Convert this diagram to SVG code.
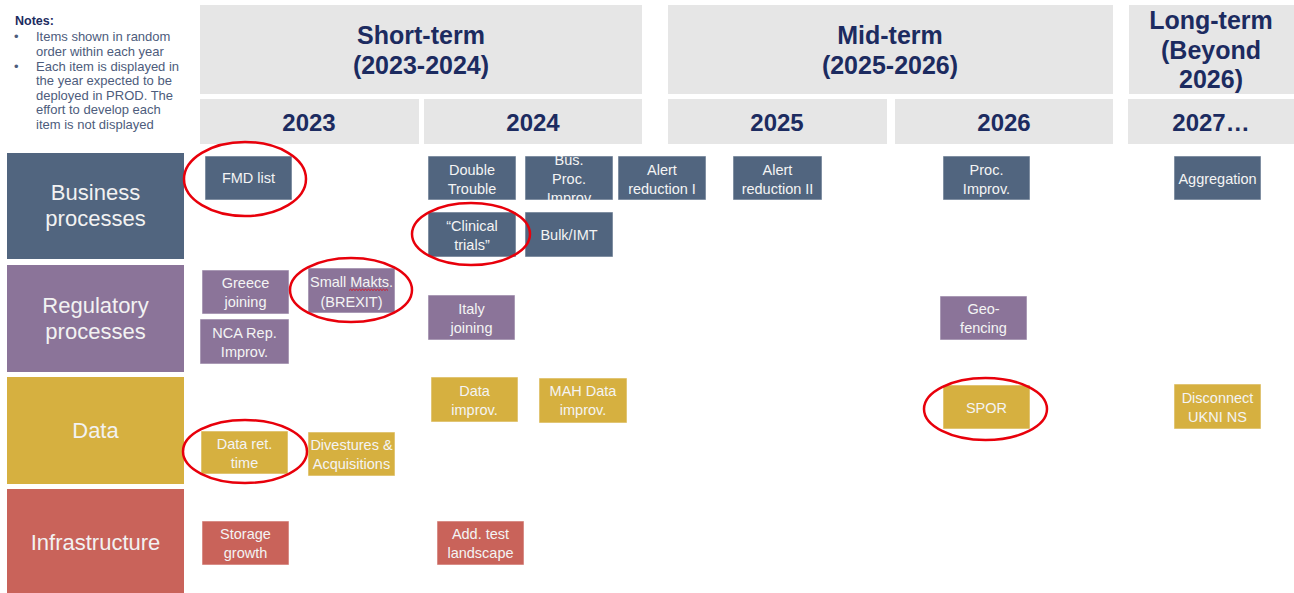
<svg xmlns="http://www.w3.org/2000/svg" width="1294" height="593" viewBox="0 0 1294 593">
<style>
.hdr{fill:#e6e6e6}
.ht{font-family:"Liberation Sans",Arial,sans-serif;font-weight:bold;font-size:25px;fill:#1c2b60;text-anchor:middle}
.yt{font-family:"Liberation Sans",Arial,sans-serif;font-weight:bold;font-size:24px;fill:#1c2b60;text-anchor:middle}
.cat{font-family:"Liberation Sans",Arial,sans-serif;font-size:22px;fill:#f2f2f2;text-anchor:middle}
.it{font-family:"Liberation Sans",Arial,sans-serif;font-size:14.5px;fill:#f4f4f4;text-anchor:middle}
.bp{fill:#51657f}
.rp{fill:#8b7499}
.dt{fill:#d6b040}
.inf{fill:#c9635a}
.box{stroke:#ffffff;stroke-opacity:0.55;stroke-width:1}
.note{font-family:"Liberation Sans",Arial,sans-serif;font-size:13px;fill:#4d5c7c}
.ring{fill:none;stroke:#e8000b;stroke-width:2.5}
</style>
<defs>
<clipPath id="clipBus"><rect x="525" y="156" width="88" height="44"/></clipPath>
</defs>
<rect width="1294" height="593" fill="#ffffff"/>

<g id="notes">
<text x="15" y="25" font-family="Liberation Sans, Arial, sans-serif" font-weight="bold" font-size="12.5" fill="#1c2b60">Notes:</text>
<text class="note" x="14" y="41">•</text>
<text class="note" x="36" y="41">Items shown in random</text>
<text class="note" x="36" y="56">order within each year</text>
<text class="note" x="14" y="71">•</text>
<text class="note" x="36" y="71">Each item is displayed in</text>
<text class="note" x="36" y="85">the year expected to be</text>
<text class="note" x="36" y="100">deployed in PROD. The</text>
<text class="note" x="36" y="114">effort to develop each</text>
<text class="note" x="36" y="129">item is not displayed</text>
</g>

<g id="headers">
<g id="h-short"><rect class="hdr" x="200" y="5" width="442" height="89"/>
<text class="ht" x="421" y="44">Short-term</text><text class="ht" x="421" y="74">(2023-2024)</text></g>
<g id="h-mid"><rect class="hdr" x="668" y="5" width="445" height="89"/>
<text class="ht" x="890" y="44">Mid-term</text><text class="ht" x="890" y="74">(2025-2026)</text></g>
<g id="h-long"><rect class="hdr" x="1129" y="5" width="165" height="89"/>
<text class="ht" x="1211" y="29">Long-term</text><text class="ht" x="1211" y="59">(Beyond</text><text class="ht" x="1211" y="88">2026)</text></g>
<g id="y2023"><rect class="hdr" x="200" y="99" width="219" height="45"/><text class="yt" x="309" y="131">2023</text></g>
<g id="y2024"><rect class="hdr" x="424" y="99" width="218" height="45"/><text class="yt" x="533" y="131">2024</text></g>
<g id="y2025"><rect class="hdr" x="668" y="99" width="219" height="45"/><text class="yt" x="777" y="131">2025</text></g>
<g id="y2026"><rect class="hdr" x="895" y="99" width="218" height="45"/><text class="yt" x="1004" y="131">2026</text></g>
<g id="y2027"><rect class="hdr" x="1128" y="99" width="166" height="45"/><text class="yt" x="1211" y="131">2027…</text></g>
</g>

<g id="categories">
<g id="cat-business"><rect class="bp" x="7" y="153" width="177" height="106"/>
<text class="cat" x="95.5" y="200">Business</text><text class="cat" x="95.5" y="226">processes</text></g>
<g id="cat-regulatory"><rect class="rp" x="7" y="265" width="177" height="107"/>
<text class="cat" x="95.5" y="313">Regulatory</text><text class="cat" x="95.5" y="339">processes</text></g>
<g id="cat-data"><rect class="dt" x="7" y="377" width="177" height="107"/>
<text class="cat" x="95.5" y="438">Data</text></g>
<g id="cat-infra"><rect class="inf" x="7" y="489" width="177" height="104"/>
<text class="cat" x="95.5" y="550" font-size="22.5">Infrastructure</text></g>
</g>

<g id="items">
<g id="fmd"><rect class="bp box" x="205" y="156" width="87" height="44"/><text class="it" x="248.5" y="183">FMD list</text></g>
<g id="double"><rect class="bp box" x="428" y="156" width="88" height="44"/><text class="it" x="472" y="175">Double</text><text class="it" x="472" y="194">Trouble</text></g>
<g id="busproc"><rect class="bp box" x="525" y="156" width="88" height="44"/>
<g clip-path="url(#clipBus)"><text class="it" x="569" y="165">Bus.</text><text class="it" x="569" y="184">Proc.</text><text class="it" x="569" y="203">Improv</text></g></g>
<g id="alert1"><rect class="bp box" x="618" y="156" width="88" height="44"/><text class="it" x="662" y="175">Alert</text><text class="it" x="662" y="194">reduction I</text></g>
<g id="alert2"><rect class="bp box" x="733" y="156" width="89" height="44"/><text class="it" x="777.5" y="175">Alert</text><text class="it" x="777.5" y="194">reduction II</text></g>
<g id="procimp"><rect class="bp box" x="943" y="156" width="87" height="44"/><text class="it" x="986.5" y="175">Proc.</text><text class="it" x="986.5" y="194">Improv.</text></g>
<g id="aggregation"><rect class="bp box" x="1174" y="156" width="87" height="44"/><text class="it" x="1217.5" y="184">Aggregation</text></g>
<g id="clinical"><rect class="bp box" x="428" y="212" width="88" height="45"/><text class="it" x="472" y="231">“Clinical</text><text class="it" x="472" y="250">trials”</text></g>
<g id="bulk"><rect class="bp box" x="525" y="212" width="88" height="45"/><text class="it" x="569" y="240">Bulk/IMT</text></g>

<g id="greece"><rect class="rp box" x="202" y="270" width="87" height="44"/><text class="it" x="245.5" y="288">Greece</text><text class="it" x="245.5" y="307">joining</text></g>
<g id="smallmakts"><rect class="rp box" x="308" y="268" width="87" height="45"/><text class="it" x="351.5" y="287">Small Makts.</text><text class="it" x="351.5" y="307">(BREXIT)</text>
<path d="M349 290.5 l1.5 -1.3 l1.5 1.3 l1.5 -1.3 l1.5 1.3 l1.5 -1.3 l1.5 1.3 l1.5 -1.3 l1.5 1.3 l1.5 -1.3 l1.5 1.3 l1.5 -1.3 l1.5 1.3 l1.5 -1.3 l1.5 1.3 l1.5 -1.3 l1.5 1.3 l1.5 -1.3 l1.5 1.3 l1.5 -1.3 l1.5 1.3 l1.5 -1.3 l1.5 1.3 l1.5 -1.3 l1.5 1.3 l1.5 -1.3 l1.5 1.3" fill="none" stroke="#e8000b" stroke-width="0.8"/></g>
<g id="nca"><rect class="rp box" x="200" y="319" width="89" height="45"/><text class="it" x="244.5" y="338">NCA Rep.</text><text class="it" x="244.5" y="357">Improv.</text></g>
<g id="italy"><rect class="rp box" x="428" y="295" width="87" height="45"/><text class="it" x="471.5" y="314">Italy</text><text class="it" x="471.5" y="333">joining</text></g>
<g id="geofencing"><rect class="rp box" x="940" y="296" width="87" height="44"/><text class="it" x="983.5" y="314">Geo-</text><text class="it" x="983.5" y="333">fencing</text></g>

<g id="dataimp"><rect class="dt box" x="431" y="377" width="87" height="45"/><text class="it" x="474.5" y="396">Data</text><text class="it" x="474.5" y="415">improv.</text></g>
<g id="mahdata"><rect class="dt box" x="539" y="378" width="88" height="45"/><text class="it" x="583" y="396">MAH Data</text><text class="it" x="583" y="415">improv.</text></g>
<g id="dataret"><rect class="dt box" x="201" y="431" width="87" height="43"/><text class="it" x="244.5" y="449">Data ret.</text><text class="it" x="244.5" y="468">time</text></g>
<g id="divestures"><rect class="dt box" x="308" y="432" width="87" height="44"/><text class="it" x="351.5" y="450">Divestures &amp;</text><text class="it" x="351.5" y="469">Acquisitions</text></g>
<g id="spor"><rect class="dt box" x="943" y="385" width="87" height="44"/><text class="it" x="986.5" y="413">SPOR</text></g>
<g id="disconnect"><rect class="dt box" x="1174" y="384" width="87" height="45"/><text class="it" x="1217.5" y="403">Disconnect</text><text class="it" x="1217.5" y="422">UKNI NS</text></g>

<g id="storage"><rect class="inf box" x="202" y="521" width="87" height="44"/><text class="it" x="245.5" y="539">Storage</text><text class="it" x="245.5" y="558">growth</text></g>
<g id="addtest"><rect class="inf box" x="437" y="521" width="87" height="44"/><text class="it" x="480.5" y="539">Add. test</text><text class="it" x="480.5" y="558">landscape</text></g>
</g>

<g id="highlights">
<ellipse class="ring" cx="245" cy="179" rx="61" ry="37"/>
<ellipse class="ring" cx="471" cy="234" rx="59" ry="31"/>
<ellipse class="ring" cx="351" cy="290" rx="61" ry="32"/>
<ellipse class="ring" cx="245" cy="451.5" rx="62" ry="31.5"/>
<ellipse class="ring" cx="985.5" cy="409" rx="61.5" ry="31"/>
</g>
</svg>
